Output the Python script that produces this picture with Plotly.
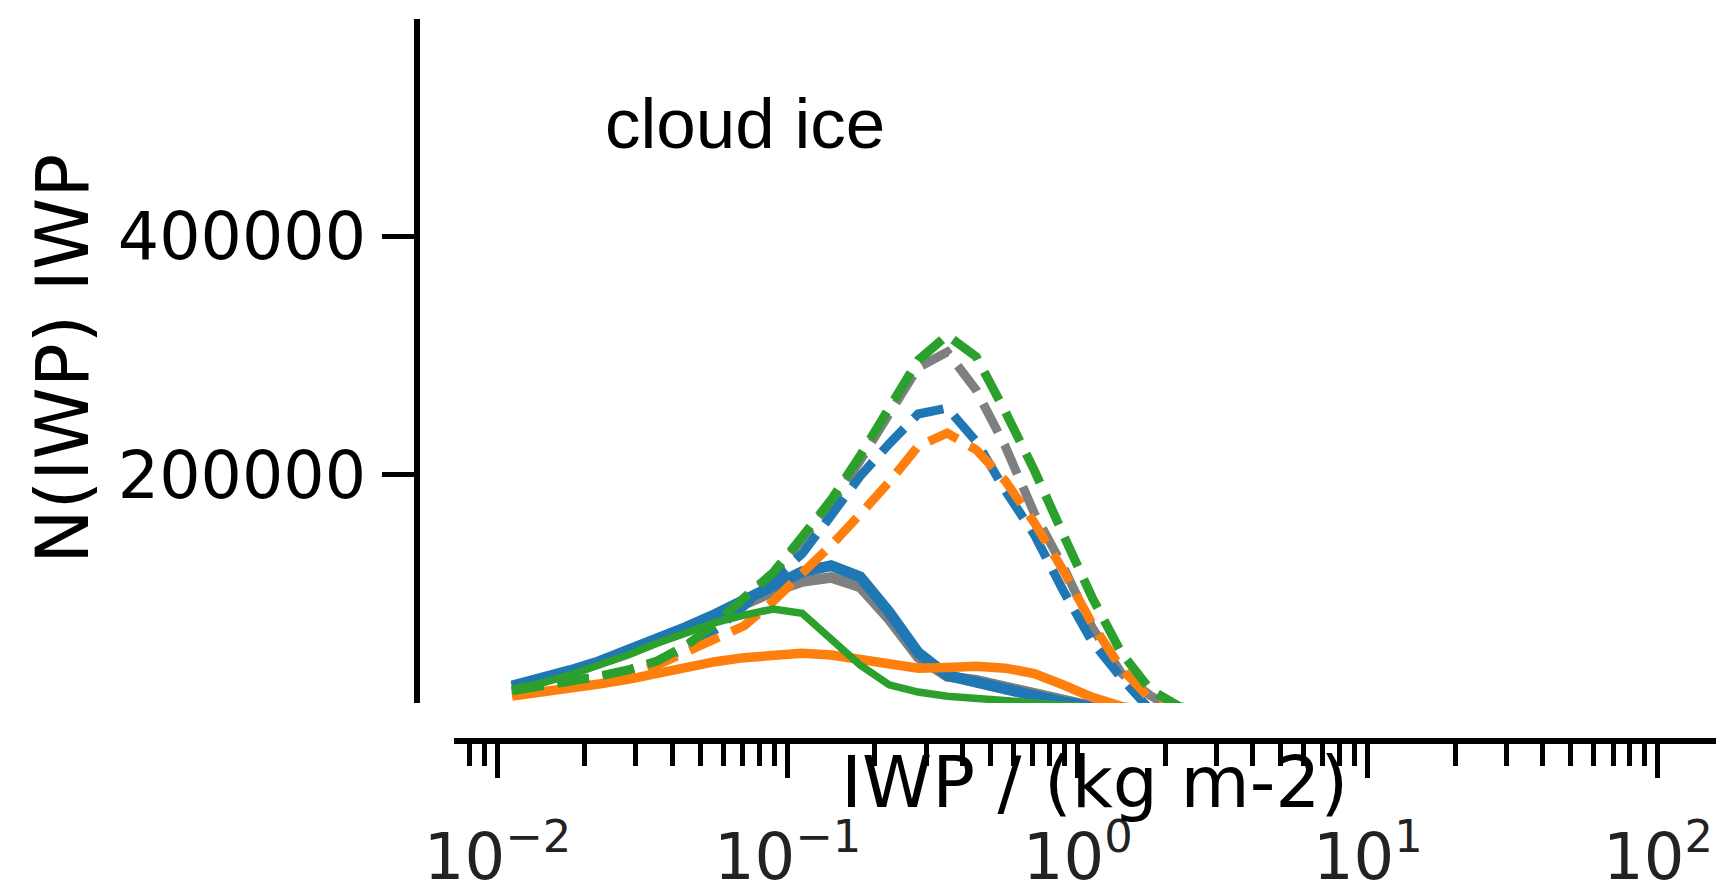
import numpy as np
import plotly.graph_objects as go

# bin centres (log10 of IWP, kg m-2)
log_iwp = [-1.95, -1.85, -1.75, -1.65, -1.55, -1.45, -1.35, -1.25, -1.15, -1.05,
           -0.95, -0.85, -0.75, -0.65, -0.55, -0.45, -0.35, -0.25, -0.15, -0.05,
           0.05, 0.15, 0.25, 0.35, 0.45]
iwp = [10 ** v for v in log_iwp]

# solid lines
gray_solid = [22000, 27500, 35000, 42500, 51500, 61000, 71000, 81000, 92000, 102000,
              110500, 114000, 106000, 79000, 47000, 31000, 28000, 22500, 16000, 10500,
              6000, 2500, 1000, 500, 200]
blue_solid = [23000, 28600, 35900, 43400, 52600, 62100, 72200, 83000, 95100, 107100,
              118800, 123900, 114500, 85000, 51000, 32000, 27000, 21500, 15000, 9500,
              5000, 2000, 800, 300, 100]
orange_solid = [14700, 17400, 20800, 24700, 28600, 33700, 38400, 43400, 46800, 49000,
                50400, 49000, 45000, 41500, 38000, 38500, 39500, 38000, 33500, 24000,
                13500, 6000, 2000, 500, 100]
green_solid = [20300, 25300, 32300, 40100, 49000, 58800, 68000, 76100, 82500, 87600,
               84000, 63000, 40600, 24000, 18000, 14500, 12700, 11300, 10000, 8500,
               6000, 3500, 1500, 500, 100]

# dashed lines
gray_dashed = [18500, 22300, 26300, 30800, 36000, 43200, 55500, 72000, 95000, 116000,
               146000, 176000, 212000, 250000, 290000, 303000, 271000, 224000, 168000, 123000,
               72000, 34000, 15000, 1000, 100]
blue_dashed = [18500, 22000, 26000, 30500, 36000, 43000, 55000, 70000, 90000, 111000,
               134000, 166000, 199000, 226000, 251000, 256000, 228000, 187000, 150000, 103000,
               60000, 30000, 3000, 500, 100]
orange_dashed = [16900, 20300, 23900, 28000, 32000, 40600, 51000, 62000, 73500, 94000,
                 117000, 141000, 167000, 194000, 224000, 235000, 221000, 195000, 160000, 120000,
                 75000, 38000, 12000, 1000, 100]
green_dashed = [19000, 22700, 26700, 31200, 36500, 44000, 57000, 75000, 97000, 118000,
                148000, 179000, 216000, 256000, 296000, 317000, 299000, 253000, 204000, 150000,
                97000, 51000, 20000, 6000, 1000]

x_tickvals = [0.01, 0.1, 1, 10, 100]
x_ticktext = ["10<sup>−2</sup>", "10<sup>−1</sup>", "10<sup>0</sup>", "10<sup>1</sup>", "10<sup>2</sup>"]
x_minor = [m * d for d in [0.001, 0.01, 0.1, 1, 10, 100] for m in range(2, 10)]
y_tickvals = [200000, 400000]
y_ticktext = ["200000", "400000"]

BLUE, ORANGE, GREEN, GRAY = "#1f77b4", "#ff7f0e", "#2ca02c", "#7f7f7f"
DASH = "32px,14px"

series = [
    (gray_solid, GRAY, None, 10.5),
    (gray_dashed, GRAY, DASH, 9),
    (blue_solid, BLUE, None, 11),
    (blue_dashed, BLUE, DASH, 9),
    (orange_solid, ORANGE, None, 9.5),
    (orange_dashed, ORANGE, DASH, 9),
    (green_solid, GREEN, None, 7.5),
    (green_dashed, GREEN, DASH, 9),
]

fig = go.Figure()
for vals, col, dash, w in series:
    fig.add_trace(go.Scatter(x=iwp, y=vals, mode="lines",
                             line=dict(color=col, width=w, dash=dash or "solid"),
                             showlegend=False, hoverinfo="skip"))

W, H = 1716, 894
fig.update_layout(
    width=W, height=H,
    margin=dict(l=0, r=0, t=0, b=0, autoexpand=False),
    paper_bgcolor="white", plot_bgcolor="white",
    xaxis=dict(
        type="log", range=[-2.15, 2.2], domain=[454 / W, 1],
        anchor="free", position=1 - 741 / H, automargin=False,
        showline=True, linewidth=6, linecolor="black",
        showgrid=False, zeroline=False,
        ticks="outside", ticklen=34, tickwidth=5, tickcolor="black",
        tickvals=x_tickvals, ticktext=x_ticktext,
        tickfont=dict(family="DejaVu Sans", size=64, color="#222222"),
        ticklabelstandoff=24,
        minor=dict(tickvals=x_minor, ticks="outside", ticklen=22, tickwidth=5,
                   tickcolor="black", showgrid=False),
    ),
    yaxis=dict(
        range=[8800, 582000], domain=[1 - 703 / H, 1 - 19 / H],
        anchor="free", position=417 / W, automargin=False,
        showline=True, linewidth=6, linecolor="black",
        showgrid=False, zeroline=False,
        ticks="outside", ticklen=32, tickwidth=5, tickcolor="black",
        tickvals=y_tickvals, ticktext=y_ticktext,
        tickfont=dict(family="DejaVu Sans", size=65, color="black"),
        ticklabelstandoff=3,
    ),
    annotations=[
        dict(text="cloud ice", x=745 / W, y=1 - 124 / H, xref="paper", yref="paper",
             xanchor="center", yanchor="middle", showarrow=False,
             font=dict(family="Liberation Sans", size=71, color="black")),
        dict(text="IWP / (kg m-2)", x=1094 / W, y=1 - 782 / H, xref="paper", yref="paper",
             xanchor="center", yanchor="middle", showarrow=False,
             font=dict(family="DejaVu Sans", size=71, color="black")),
        dict(text="N(IWP) IWP", x=62 / W, y=1 - 359 / H, xref="paper", yref="paper",
             xanchor="center", yanchor="middle", showarrow=False, textangle=-90,
             font=dict(family="DejaVu Sans", size=73, color="black")),
    ],
)

fig.write_html("out.html")
